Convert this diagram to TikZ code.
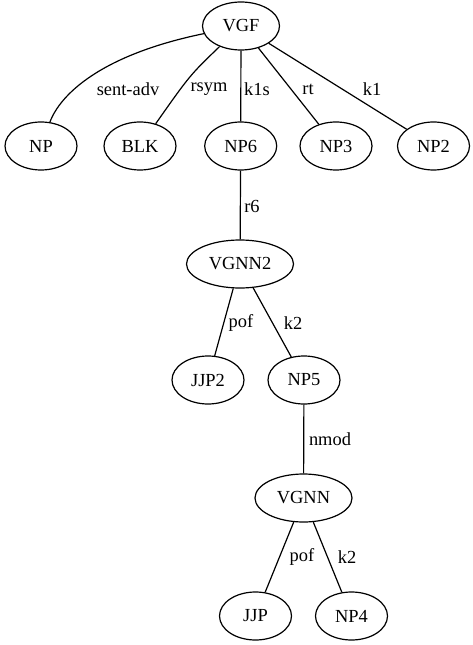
\documentclass[tikz,border=0pt]{standalone}
\usepackage{fontspec}
\setmainfont{Liberation Serif}
\usetikzlibrary{shapes.geometric}
\begin{document}
\begin{tikzpicture}[x=1bp,y=-1bp,
  tnode/.style={draw, ellipse, line width=1.2bp, inner sep=0pt,
    minimum width=72bp, minimum height=48bp,
    font=\fontsize{18.5}{20}\selectfont},
  elabel/.style={inner sep=0pt, font=\fontsize{18.5}{20}\selectfont},
  edge/.style={line width=1.2bp}]
\useasboundingbox (0,0) rectangle (473,645);

% nodes of the tree
\node[tnode, minimum width=77bp] (VGF) at (241,26) {VGF};
\node[tnode] (NP)  at (41,146)    {NP};
\node[tnode] (BLK) at (140,146)   {BLK};
\node[tnode] (NP6) at (240.7,146) {NP6};
\node[tnode] (NP3) at (336,146)   {NP3};
\node[tnode] (NP2) at (433.5,146) {NP2};
\node[tnode, minimum width=107bp] (VGNN2) at (240,264) {VGNN2};
\node[tnode] (JJP2) at (208,380) {JJP2};
\node[tnode] (NP5)  at (304,380) {NP5};
\node[tnode, minimum width=97bp] (VGNN) at (303.5,498) {VGNN};
\node[tnode] (JJP) at (255.5,616) {JJP};
\node[tnode] (NP4) at (351.5,616) {NP4};

% edges
\draw[edge] (VGF) .. controls (100,55) and (60,95) .. (NP);
\draw[edge] (VGF) .. controls (190,75) .. (BLK);
\draw[edge] (VGF) -- (NP6);
\draw[edge] (VGF) -- (NP3);
\draw[edge] (VGF) -- (NP2);
\draw[edge] (NP6) -- (VGNN2);
\draw[edge] (VGNN2) -- (JJP2);
\draw[edge] (VGNN2) -- (NP5);
\draw[edge] (NP5) -- (VGNN);
\draw[edge] (VGNN) -- (JJP);
\draw[edge] (VGNN) -- (NP4);

% edge labels
\node[elabel] (l1) at (128,89) {sent-adv};
\node[elabel] (l2) at (209,89) {rsym};
\node[elabel] (l3) at (257,89) {k1s};
\node[elabel] (l4) at (308,89) {rt};
\node[elabel] (l5) at (372,89) {k1};
\node[elabel] (l6) at (252,206) {r6};
\node[elabel] (l7) at (241,323) {pof};
\node[elabel] (l8) at (293,323) {k2};
\node[elabel] (l9) at (330,439) {nmod};
\node[elabel] (l10) at (302,557) {pof};
\node[elabel] (l11) at (347,557) {k2};
\end{tikzpicture}
\end{document}
